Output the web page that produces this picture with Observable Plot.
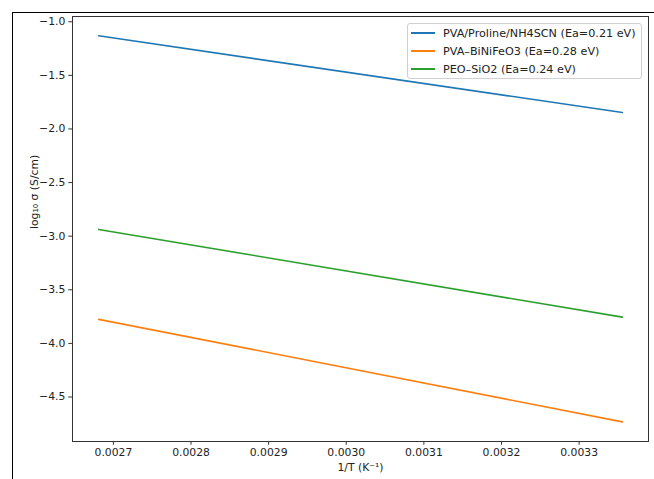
<!DOCTYPE html>
<html>
<head>
<meta charset="utf-8">
<script src="https://cdn.jsdelivr.net/npm/d3@7"></script>
<script src="https://cdn.jsdelivr.net/npm/@observablehq/plot@0.6"></script>
<style>
  html, body { margin: 0; padding: 0; background: #fff; }
  #wrap { position: relative; width: 654px; height: 479px; overflow: hidden; font-family: "DejaVu Sans", sans-serif; }
  #outer { position: absolute; left: 12px; top: 12px; right: -2px; bottom: -2px; border-left: 1px solid #000; border-top: 1px solid #000; pointer-events: none; }
  #legend { position: absolute; left: 407px; top: 23px; width: 235px; height: 56px; border: 1px solid #d0d0d0; border-radius: 3px; background: rgba(255,255,255,0.8); box-sizing: border-box; font-size: 11.2px; color: #222; }
  .row { position: absolute; left: 3px; height: 14px; display: flex; align-items: center; white-space: nowrap; }
  .sw { width: 24px; height: 1.6px; margin-right: 8px; }
</style>
</head>
<body>
<div id="wrap"></div>
<script>
// Data (1/T in K^-1, log10 sigma in S/cm)
const invT = [0.0026810, 0.0033557];
const pvaProline = [-1.131, -1.847];
const pvaBiNiFeO3 = [-3.776, -4.732];
const peoSiO2 = [-2.937, -3.755];
const seriesNames = ["PVA/Proline/NH4SCN (Ea=0.21 eV)", "PVA–BiNiFeO3 (Ea=0.28 eV)", "PEO–SiO2 (Ea=0.24 eV)"];
const seriesColors = ["#1f77b4", "#ff7f0e", "#2ca02c"];
const xTicks = [0.0027, 0.0028, 0.0029, 0.0030, 0.0031, 0.0032, 0.0033];
const yTicks = [-1.0, -1.5, -2.0, -2.5, -3.0, -3.5, -4.0, -4.5];
const xLabel = "1/T (K⁻¹)";
const yLabel = "log₁₀ σ (S/cm)";

const seriesValues = [pvaProline, pvaBiNiFeO3, peoSiO2];
const rows = [];
seriesValues.forEach((vals, s) => {
  vals.forEach((v, i) => rows.push({series: seriesNames[s], x: invT[i], y: v}));
});

const chart = Plot.plot({
  width: 654,
  height: 479,
  marginLeft: 72,
  marginRight: 6,
  marginTop: 16,
  marginBottom: 38,
  style: {fontFamily: "DejaVu Sans, sans-serif", fontSize: "10.8px", color: "#222", background: "transparent"},
  x: {domain: [0.0026473, 0.0033894]},
  y: {domain: [-4.915, -0.951]},
  color: {domain: seriesNames, range: seriesColors},
  marks: [
    Plot.line(rows, {x: "x", y: "y", stroke: "series", z: "series", strokeWidth: 1.6}),
    Plot.frame({stroke: "#333", strokeWidth: 1}),
    Plot.axisX({ticks: xTicks, tickFormat: d3.format(".4f"), tickSize: 3.7, tickPadding: 3.5, label: null, stroke: "#333"}),
    Plot.axisY({ticks: yTicks, tickFormat: d3.format(".1f"), tickSize: 3.7, tickPadding: 3.5, label: null, stroke: "#333"}),
    Plot.text([xLabel], {frameAnchor: "bottom", dy: 29, text: d => d, fontSize: 10.8, fill: "#222"}),
    Plot.text([yLabel], {frameAnchor: "left", dx: -38, rotate: -90, text: d => d, fontSize: 10.8, fill: "#222"})
  ]
});

const wrap = document.getElementById("wrap");
wrap.appendChild(chart);

const outer = document.createElement("div");
outer.id = "outer";
wrap.appendChild(outer);

const legend = document.createElement("div");
legend.id = "legend";
const rowTops = [2, 20, 38];
seriesNames.forEach((name, i) => {
  const r = document.createElement("div");
  r.className = "row";
  r.style.top = rowTops[i] + "px";
  const sw = document.createElement("span");
  sw.className = "sw";
  sw.style.background = seriesColors[i];
  const t = document.createElement("span");
  t.textContent = name;
  r.appendChild(sw);
  r.appendChild(t);
  legend.appendChild(r);
});
wrap.appendChild(legend);
</script>
</body>
</html>
